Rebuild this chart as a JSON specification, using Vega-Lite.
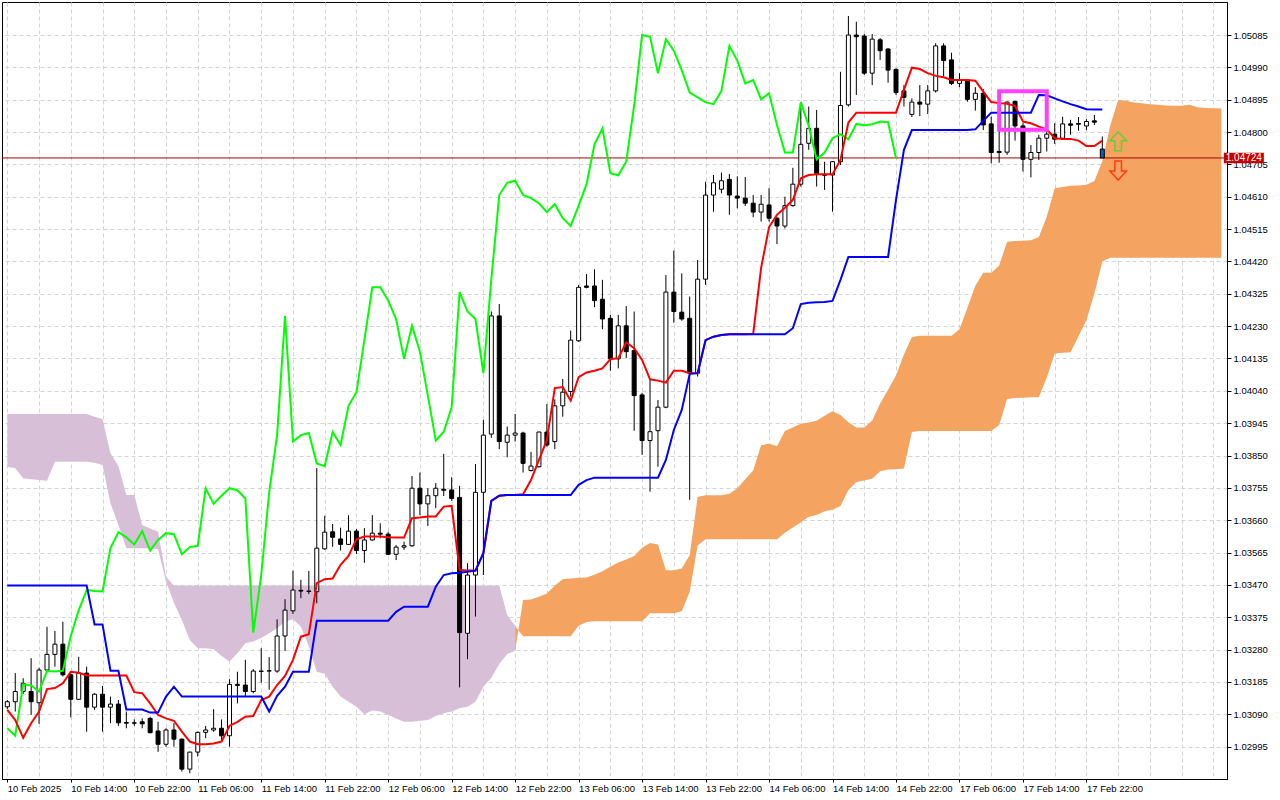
{
  "$schema": "https://vega.github.io/schema/vega-lite/v6.json",
  "width": 1225,
  "height": 777,
  "autosize": {"type": "none"},
  "padding": {"left": 2, "top": 2, "right": 53, "bottom": 21},
  "background": "white",
  "config": {
    "view": {"stroke": "black", "strokeWidth": 1},
    "axis": {"labelOverlap": false, "labelFlush": false, "labelBound": false}
  },
  "datasets": {
    "bars": [
      {"k":0,"o":1.03112,"h":1.03132,"l":1.03105,"c":1.03127,"t":1.03103,"kj":1.03468,"ch":1.03049,"sa":1.03817,"sb":1.03972},
      {"k":1,"o":1.03127,"h":1.03211,"l":1.03098,"c":1.03157,"t":1.03073,"kj":1.03468,"ch":1.03027,"sa":1.03813,"sb":1.03972},
      {"k":2,"o":1.03157,"h":1.03196,"l":1.0315,"c":1.03181,"t":1.03021,"kj":1.03468,"ch":1.03178,"sa":1.03783,"sb":1.03972},
      {"k":3,"o":1.03157,"h":1.03255,"l":1.03088,"c":1.03127,"t":1.03064,"kj":1.03468,"ch":1.03175,"sa":1.0378,"sb":1.03972},
      {"k":4,"o":1.03124,"h":1.03227,"l":1.03062,"c":1.0322,"t":1.03098,"kj":1.03468,"ch":1.03157,"sa":1.03778,"sb":1.03972},
      {"k":5,"o":1.0322,"h":1.03347,"l":1.03215,"c":1.03266,"t":1.03164,"kj":1.03468,"ch":1.03217,"sa":1.03776,"sb":1.03972},
      {"k":6,"o":1.03266,"h":1.03335,"l":1.0323,"c":1.03296,"t":1.03167,"kj":1.03468,"ch":1.03216,"sa":1.03832,"sb":1.03972},
      {"k":7,"o":1.03296,"h":1.03362,"l":1.03201,"c":1.03206,"t":1.03181,"kj":1.03468,"ch":1.03218,"sa":1.03832,"sb":1.03972},
      {"k":8,"o":1.03206,"h":1.03215,"l":1.03081,"c":1.03134,"t":1.03215,"kj":1.03468,"ch":1.0332,"sa":1.03832,"sb":1.03972},
      {"k":9,"o":1.03134,"h":1.03259,"l":1.03132,"c":1.03211,"t":1.03212,"kj":1.03468,"ch":1.03396,"sa":1.03832,"sb":1.03972},
      {"k":10,"o":1.03211,"h":1.0323,"l":1.03039,"c":1.03111,"t":1.03204,"kj":1.03468,"ch":1.03455,"sa":1.03832,"sb":1.03972},
      {"k":11,"o":1.03111,"h":1.03152,"l":1.03103,"c":1.03149,"t":1.03204,"kj":1.03354,"ch":1.03452,"sa":1.03829,"sb":1.03964},
      {"k":12,"o":1.03149,"h":1.03173,"l":1.03039,"c":1.03111,"t":1.03204,"kj":1.03354,"ch":1.03451,"sa":1.03822,"sb":1.03957},
      {"k":13,"o":1.03111,"h":1.03142,"l":1.03064,"c":1.0312,"t":1.03204,"kj":1.03218,"ch":1.03578,"sa":1.0371,"sb":1.03857},
      {"k":14,"o":1.0312,"h":1.03132,"l":1.03056,"c":1.03065,"t":1.03204,"kj":1.03218,"ch":1.03625,"sa":1.03646,"sb":1.03819},
      {"k":15,"o":1.03066,"h":1.03098,"l":1.03049,"c":1.03064,"t":1.03204,"kj":1.03104,"ch":1.0361,"sa":1.03578,"sb":1.03734},
      {"k":16,"o":1.03065,"h":1.03075,"l":1.03056,"c":1.03064,"t":1.03155,"kj":1.03104,"ch":1.03589,"sa":1.03578,"sb":1.03734},
      {"k":17,"o":1.03068,"h":1.03078,"l":1.03049,"c":1.03062,"t":1.03152,"kj":1.03104,"ch":1.03628,"sa":1.03578,"sb":1.03646},
      {"k":18,"o":1.03078,"h":1.03083,"l":1.03034,"c":1.03036,"t":1.03122,"kj":1.03095,"ch":1.03571,"sa":1.03578,"sb":1.03636},
      {"k":19,"o":1.03041,"h":1.03068,"l":1.0298,"c":1.03002,"t":1.03088,"kj":1.03095,"ch":1.03602,"sa":1.03575,"sb":1.03626},
      {"k":20,"o":1.03002,"h":1.03049,"l":1.02995,"c":1.03044,"t":1.03078,"kj":1.03142,"ch":1.03622,"sa":1.0348,"sb":1.03494},
      {"k":21,"o":1.03044,"h":1.03064,"l":1.02995,"c":1.03017,"t":1.03071,"kj":1.03171,"ch":1.03619,"sa":1.03418,"sb":1.03468},
      {"k":22,"o":1.03017,"h":1.03019,"l":1.02922,"c":1.02929,"t":1.03039,"kj":1.03142,"ch":1.0356,"sa":1.03367,"sb":1.03468},
      {"k":23,"o":1.02929,"h":1.0298,"l":1.02917,"c":1.02979,"t":1.0301,"kj":1.03142,"ch":1.03581,"sa":1.03308,"sb":1.03468},
      {"k":24,"o":1.02979,"h":1.03039,"l":1.02966,"c":1.03037,"t":1.03002,"kj":1.03142,"ch":1.03585,"sa":1.03284,"sb":1.03468},
      {"k":25,"o":1.03037,"h":1.03056,"l":1.0302,"c":1.03044,"t":1.03002,"kj":1.03142,"ch":1.03754,"sa":1.03284,"sb":1.03468},
      {"k":26,"o":1.03044,"h":1.03105,"l":1.03039,"c":1.03049,"t":1.03004,"kj":1.03142,"ch":1.03708,"sa":1.03281,"sb":1.03468},
      {"k":27,"o":1.03049,"h":1.03075,"l":1.0301,"c":1.03027,"t":1.0301,"kj":1.03142,"ch":1.03732,"sa":1.03261,"sb":1.03468},
      {"k":28,"o":1.03027,"h":1.03193,"l":1.02995,"c":1.03178,"t":1.03056,"kj":1.03142,"ch":1.03754,"sa":1.03245,"sb":1.03468},
      {"k":29,"o":1.03178,"h":1.03215,"l":1.03122,"c":1.03175,"t":1.03068,"kj":1.03142,"ch":1.03748,"sa":1.03269,"sb":1.03468},
      {"k":30,"o":1.03176,"h":1.0325,"l":1.03144,"c":1.03157,"t":1.03083,"kj":1.03142,"ch":1.03724,"sa":1.03299,"sb":1.03468},
      {"k":31,"o":1.03157,"h":1.03223,"l":1.03152,"c":1.03217,"t":1.03085,"kj":1.03142,"ch":1.0333,"sa":1.03304,"sb":1.03468},
      {"k":32,"o":1.03217,"h":1.03284,"l":1.03183,"c":1.03216,"t":1.03132,"kj":1.03142,"ch":1.03499,"sa":1.03314,"sb":1.03468},
      {"k":33,"o":1.03217,"h":1.03258,"l":1.03162,"c":1.03218,"t":1.03142,"kj":1.03098,"ch":1.03742,"sa":1.03328,"sb":1.03468},
      {"k":34,"o":1.03217,"h":1.03369,"l":1.03212,"c":1.0332,"t":1.03176,"kj":1.03144,"ch":1.0391,"sa":1.03343,"sb":1.03468},
      {"k":35,"o":1.0332,"h":1.03428,"l":1.03276,"c":1.03396,"t":1.03203,"kj":1.03171,"ch":1.0426,"sa":1.03362,"sb":1.03468},
      {"k":36,"o":1.03394,"h":1.03512,"l":1.03385,"c":1.03455,"t":1.0325,"kj":1.03215,"ch":1.03891,"sa":1.03369,"sb":1.03468},
      {"k":37,"o":1.03454,"h":1.03485,"l":1.03431,"c":1.03452,"t":1.03318,"kj":1.03215,"ch":1.0391,"sa":1.03347,"sb":1.03468},
      {"k":38,"o":1.03452,"h":1.03511,"l":1.03443,"c":1.03451,"t":1.03325,"kj":1.03215,"ch":1.03916,"sa":1.03289,"sb":1.03468},
      {"k":39,"o":1.0345,"h":1.03813,"l":1.03416,"c":1.03578,"t":1.03475,"kj":1.03365,"ch":1.03827,"sa":1.03215,"sb":1.03468},
      {"k":40,"o":1.03576,"h":1.03673,"l":1.03573,"c":1.03625,"t":1.03487,"kj":1.03365,"ch":1.03819,"sa":1.03209,"sb":1.03468},
      {"k":41,"o":1.03626,"h":1.03649,"l":1.03582,"c":1.0361,"t":1.03489,"kj":1.03365,"ch":1.03919,"sa":1.03171,"sb":1.03468},
      {"k":42,"o":1.03605,"h":1.03638,"l":1.03571,"c":1.03589,"t":1.03529,"kj":1.03365,"ch":1.03881,"sa":1.03142,"sb":1.03468},
      {"k":43,"o":1.03589,"h":1.03675,"l":1.03587,"c":1.03628,"t":1.03555,"kj":1.03365,"ch":1.03996,"sa":1.03127,"sb":1.03468},
      {"k":44,"o":1.03628,"h":1.03634,"l":1.03561,"c":1.03571,"t":1.03604,"kj":1.03365,"ch":1.04036,"sa":1.03112,"sb":1.03468},
      {"k":45,"o":1.03571,"h":1.03637,"l":1.03535,"c":1.03602,"t":1.03612,"kj":1.03365,"ch":1.04189,"sa":1.0309,"sb":1.03468},
      {"k":46,"o":1.03602,"h":1.03675,"l":1.036,"c":1.03622,"t":1.03612,"kj":1.03365,"ch":1.04344,"sa":1.03101,"sb":1.03468},
      {"k":47,"o":1.03622,"h":1.03651,"l":1.03607,"c":1.03619,"t":1.03612,"kj":1.03365,"ch":1.04344,"sa":1.03098,"sb":1.03468},
      {"k":48,"o":1.03619,"h":1.03626,"l":1.03558,"c":1.0356,"t":1.0361,"kj":1.03365,"ch":1.04305,"sa":1.03088,"sb":1.03468},
      {"k":49,"o":1.0356,"h":1.03587,"l":1.03543,"c":1.03581,"t":1.03609,"kj":1.03391,"ch":1.04251,"sa":1.03078,"sb":1.03468},
      {"k":50,"o":1.03581,"h":1.03597,"l":1.03573,"c":1.03585,"t":1.03609,"kj":1.03406,"ch":1.04134,"sa":1.03068,"sb":1.03468},
      {"k":51,"o":1.03585,"h":1.0379,"l":1.03582,"c":1.03754,"t":1.03666,"kj":1.03406,"ch":1.04231,"sa":1.03068,"sb":1.03468},
      {"k":52,"o":1.03754,"h":1.038,"l":1.03675,"c":1.03708,"t":1.03668,"kj":1.03406,"ch":1.04155,"sa":1.03071,"sb":1.03468},
      {"k":53,"o":1.03708,"h":1.03754,"l":1.03643,"c":1.03732,"t":1.03671,"kj":1.03406,"ch":1.04026,"sa":1.03073,"sb":1.03468},
      {"k":54,"o":1.03732,"h":1.03769,"l":1.03695,"c":1.03754,"t":1.03671,"kj":1.03465,"ch":1.03894,"sa":1.03085,"sb":1.03468},
      {"k":55,"o":1.03751,"h":1.03855,"l":1.03731,"c":1.03748,"t":1.037,"kj":1.03499,"ch":1.0392,"sa":1.03093,"sb":1.03468},
      {"k":56,"o":1.03749,"h":1.03786,"l":1.03717,"c":1.03724,"t":1.03702,"kj":1.03504,"ch":1.03992,"sa":1.03098,"sb":1.03468},
      {"k":57,"o":1.03727,"h":1.03761,"l":1.03169,"c":1.0333,"t":1.03514,"kj":1.03506,"ch":1.0433,"sa":1.03108,"sb":1.03468},
      {"k":58,"o":1.03328,"h":1.03534,"l":1.03252,"c":1.03499,"t":1.03512,"kj":1.03509,"ch":1.04273,"sa":1.03112,"sb":1.03468},
      {"k":59,"o":1.03499,"h":1.03825,"l":1.03377,"c":1.03742,"t":1.03512,"kj":1.03512,"ch":1.04251,"sa":1.03127,"sb":1.03468},
      {"k":60,"o":1.03742,"h":1.03955,"l":1.03499,"c":1.0391,"t":1.03563,"kj":1.03563,"ch":1.04092,"sa":1.03171,"sb":1.03468},
      {"k":61,"o":1.03913,"h":1.04273,"l":1.03902,"c":1.0426,"t":1.03717,"kj":1.03717,"ch":1.04368,"sa":1.03197,"sb":1.03468},
      {"k":62,"o":1.0426,"h":1.04295,"l":1.03869,"c":1.03891,"t":1.03732,"kj":1.03732,"ch":1.04615,"sa":1.03238,"sb":1.03468},
      {"k":63,"o":1.03889,"h":1.03935,"l":1.03845,"c":1.0391,"t":1.03734,"kj":1.03734,"ch":1.04651,"sa":1.03267,"sb":1.03382},
      {"k":64,"o":1.0391,"h":1.03972,"l":1.03891,"c":1.03916,"t":1.03734,"kj":1.03734,"ch":1.04657,"sa":1.03277,"sb":1.03349},
      {"k":65,"o":1.03916,"h":1.0392,"l":1.038,"c":1.03827,"t":1.03736,"kj":1.03734,"ch":1.04615,"sa":1.03426,"sb":1.03319},
      {"k":66,"o":1.03806,"h":1.03861,"l":1.03803,"c":1.03819,"t":1.03778,"kj":1.03734,"ch":1.04606,"sa":1.03427,"sb":1.03319},
      {"k":67,"o":1.03817,"h":1.0392,"l":1.03815,"c":1.03919,"t":1.03837,"kj":1.03734,"ch":1.04591,"sa":1.03435,"sb":1.03319},
      {"k":68,"o":1.03919,"h":1.04001,"l":1.03876,"c":1.03881,"t":1.03896,"kj":1.03734,"ch":1.04565,"sa":1.03445,"sb":1.03319},
      {"k":69,"o":1.03891,"h":1.04015,"l":1.03869,"c":1.03996,"t":1.04048,"kj":1.03734,"ch":1.04588,"sa":1.03468,"sb":1.03319},
      {"k":70,"o":1.03996,"h":1.04075,"l":1.03964,"c":1.04036,"t":1.04051,"kj":1.03734,"ch":1.04547,"sa":1.03487,"sb":1.03319},
      {"k":71,"o":1.04038,"h":1.04217,"l":1.04023,"c":1.04189,"t":1.04011,"kj":1.03734,"ch":1.04524,"sa":1.03489,"sb":1.03319},
      {"k":72,"o":1.04187,"h":1.04351,"l":1.04184,"c":1.04344,"t":1.0408,"kj":1.03764,"ch":1.04584,"sa":1.03491,"sb":1.0335},
      {"k":73,"o":1.04348,"h":1.04383,"l":1.04341,"c":1.04344,"t":1.04094,"kj":1.03778,"ch":1.04647,"sa":1.03492,"sb":1.03361},
      {"k":74,"o":1.04348,"h":1.04397,"l":1.04286,"c":1.04305,"t":1.04099,"kj":1.03785,"ch":1.04764,"sa":1.035,"sb":1.03363},
      {"k":75,"o":1.04309,"h":1.04366,"l":1.04221,"c":1.04251,"t":1.04106,"kj":1.03785,"ch":1.04811,"sa":1.0351,"sb":1.03363},
      {"k":76,"o":1.04253,"h":1.04263,"l":1.04099,"c":1.04134,"t":1.04133,"kj":1.03785,"ch":1.04679,"sa":1.03523,"sb":1.03363},
      {"k":77,"o":1.04134,"h":1.04263,"l":1.04106,"c":1.04231,"t":1.04136,"kj":1.03785,"ch":1.04673,"sa":1.03536,"sb":1.03363},
      {"k":78,"o":1.04231,"h":1.04289,"l":1.04136,"c":1.04155,"t":1.04182,"kj":1.03785,"ch":1.04713,"sa":1.03545,"sb":1.03363},
      {"k":79,"o":1.04158,"h":1.04273,"l":1.03923,"c":1.04026,"t":1.04165,"kj":1.03785,"ch":1.04878,"sa":1.03555,"sb":1.03363},
      {"k":80,"o":1.04028,"h":1.04034,"l":1.03852,"c":1.03894,"t":1.04131,"kj":1.03785,"ch":1.05085,"sa":1.03579,"sb":1.03363},
      {"k":81,"o":1.03894,"h":1.04072,"l":1.03744,"c":1.0392,"t":1.04074,"kj":1.03785,"ch":1.0508,"sa":1.03593,"sb":1.03387},
      {"k":82,"o":1.03923,"h":1.04013,"l":1.03817,"c":1.03992,"t":1.0407,"kj":1.03785,"ch":1.04973,"sa":1.03589,"sb":1.03387},
      {"k":83,"o":1.03992,"h":1.0438,"l":1.03989,"c":1.0433,"t":1.04064,"kj":1.03837,"ch":1.05073,"sa":1.03513,"sb":1.03387},
      {"k":84,"o":1.0433,"h":1.04452,"l":1.0424,"c":1.04273,"t":1.04099,"kj":1.03925,"ch":1.05039,"sa":1.03513,"sb":1.03387},
      {"k":85,"o":1.04271,"h":1.04385,"l":1.04246,"c":1.04251,"t":1.04099,"kj":1.03984,"ch":1.04982,"sa":1.03518,"sb":1.03393},
      {"k":86,"o":1.04253,"h":1.04317,"l":1.0372,"c":1.04092,"t":1.04092,"kj":1.0409,"ch":1.04916,"sa":1.03558,"sb":1.0345},
      {"k":87,"o":1.04092,"h":1.04424,"l":1.04082,"c":1.04368,"t":1.04092,"kj":1.04092,"ch":1.04902,"sa":1.03728,"sb":1.03586},
      {"k":88,"o":1.04368,"h":1.04654,"l":1.04351,"c":1.04615,"t":1.04189,"kj":1.04189,"ch":1.04888,"sa":1.03733,"sb":1.03604},
      {"k":89,"o":1.04615,"h":1.04674,"l":1.04566,"c":1.04651,"t":1.04199,"kj":1.04199,"ch":1.04882,"sa":1.03733,"sb":1.03604},
      {"k":90,"o":1.04632,"h":1.04681,"l":1.0462,"c":1.04657,"t":1.04204,"kj":1.04204,"ch":1.04921,"sa":1.03733,"sb":1.03604},
      {"k":91,"o":1.04661,"h":1.04677,"l":1.04557,"c":1.04615,"t":1.04206,"kj":1.04206,"ch":1.05053,"sa":1.03738,"sb":1.03604},
      {"k":92,"o":1.04612,"h":1.0467,"l":1.04576,"c":1.04606,"t":1.04206,"kj":1.04206,"ch":1.0501,"sa":1.03754,"sb":1.03604},
      {"k":93,"o":1.04606,"h":1.04668,"l":1.04583,"c":1.04591,"t":1.04206,"kj":1.04206,"ch":1.04943,"sa":1.0378,"sb":1.03604},
      {"k":94,"o":1.04591,"h":1.04615,"l":1.0455,"c":1.04565,"t":1.04207,"kj":1.04206,"ch":1.04953,"sa":1.03806,"sb":1.03604},
      {"k":95,"o":1.04565,"h":1.04615,"l":1.04537,"c":1.04588,"t":1.04401,"kj":1.04206,"ch":1.04896,"sa":1.0388,"sb":1.03604},
      {"k":96,"o":1.04586,"h":1.04635,"l":1.04537,"c":1.04547,"t":1.04521,"kj":1.04206,"ch":1.04914,"sa":1.03885,"sb":1.03604},
      {"k":97,"o":1.04547,"h":1.04551,"l":1.04471,"c":1.04524,"t":1.04557,"kj":1.04206,"ch":1.04821,"sa":1.03877,"sb":1.03604},
      {"k":98,"o":1.04524,"h":1.0461,"l":1.04517,"c":1.04584,"t":1.04578,"kj":1.04206,"ch":1.0474,"sa":1.03922,"sb":1.03623},
      {"k":99,"o":1.04584,"h":1.04695,"l":1.04581,"c":1.04647,"t":1.04601,"kj":1.04224,"ch":1.0474,"sa":1.03932,"sb":1.03639},
      {"k":100,"o":1.04647,"h":1.04871,"l":1.0464,"c":1.04764,"t":1.04664,"kj":1.04295,"ch":1.04888,"sa":1.03943,"sb":1.03654},
      {"k":101,"o":1.04767,"h":1.04875,"l":1.04748,"c":1.04811,"t":1.04674,"kj":1.04299,"ch":1.04818,"sa":1.03947,"sb":1.0367},
      {"k":102,"o":1.04811,"h":1.04865,"l":1.0464,"c":1.04679,"t":1.04676,"kj":1.043,"ch":1.0472,"sa":1.03952,"sb":1.03675},
      {"k":103,"o":1.04676,"h":1.04713,"l":1.0463,"c":1.04673,"t":1.04676,"kj":1.04301,"ch":1.0474,"sa":1.03967,"sb":1.03686},
      {"k":104,"o":1.04674,"h":1.04715,"l":1.04566,"c":1.04713,"t":1.04676,"kj":1.04304,"ch":1.04782,"sa":1.0398,"sb":1.03691},
      {"k":105,"o":1.04713,"h":1.04977,"l":1.04703,"c":1.04878,"t":1.04718,"kj":1.04366,"ch":1.04794,"sa":1.03969,"sb":1.03702},
      {"k":106,"o":1.0488,"h":1.05141,"l":1.04875,"c":1.05085,"t":1.04828,"kj":1.04433,"ch":1.04779,"sa":1.03948,"sb":1.03749},
      {"k":107,"o":1.05085,"h":1.05124,"l":1.04909,"c":1.0508,"t":1.04857,"kj":1.04433,"ch":1.04824,"sa":1.03932,"sb":1.03772},
      {"k":108,"o":1.05082,"h":1.05088,"l":1.04968,"c":1.04973,"t":1.04857,"kj":1.04433,"ch":1.0482,"sa":1.03932,"sb":1.03777},
      {"k":109,"o":1.04973,"h":1.05088,"l":1.04938,"c":1.05073,"t":1.04857,"kj":1.04433,"ch":1.04823,"sa":1.03953,"sb":1.03782},
      {"k":110,"o":1.05071,"h":1.05076,"l":1.05012,"c":1.05039,"t":1.04857,"kj":1.04433,"ch":1.04831,"sa":1.04003,"sb":1.03804},
      {"k":111,"o":1.05044,"h":1.05046,"l":1.04945,"c":1.04982,"t":1.04857,"kj":1.04433,"ch":1.04829,"sa":1.04043,"sb":1.03809},
      {"k":112,"o":1.04984,"h":1.04987,"l":1.04909,"c":1.04916,"t":1.04857,"kj":1.04601,"ch":1.04724,"sa":1.04085,"sb":1.0381},
      {"k":113,"o":1.04921,"h":1.04938,"l":1.04875,"c":1.04902,"t":1.04924,"kj":1.04748,"sa":1.04147,"sb":1.03812},
      {"k":114,"o":1.04852,"h":1.04899,"l":1.04844,"c":1.04888,"t":1.04989,"kj":1.04806,"sa":1.04198,"sb":1.03919},
      {"k":115,"o":1.04888,"h":1.04938,"l":1.04847,"c":1.04882,"t":1.04985,"kj":1.04806,"sa":1.04202,"sb":1.03922},
      {"k":116,"o":1.04882,"h":1.04938,"l":1.04853,"c":1.04921,"t":1.04973,"kj":1.04806,"sa":1.04202,"sb":1.03922},
      {"k":117,"o":1.04921,"h":1.05061,"l":1.04916,"c":1.05053,"t":1.04965,"kj":1.04806,"sa":1.04202,"sb":1.03922},
      {"k":118,"o":1.05053,"h":1.05061,"l":1.04963,"c":1.0501,"t":1.04961,"kj":1.04806,"sa":1.04202,"sb":1.03922},
      {"k":119,"o":1.05012,"h":1.05033,"l":1.04938,"c":1.04943,"t":1.04953,"kj":1.04806,"sa":1.04202,"sb":1.03922},
      {"k":120,"o":1.04943,"h":1.04973,"l":1.04932,"c":1.04953,"t":1.04953,"kj":1.04806,"sa":1.04221,"sb":1.03922},
      {"k":121,"o":1.04953,"h":1.04953,"l":1.04889,"c":1.04896,"t":1.04953,"kj":1.04806,"sa":1.04284,"sb":1.03922},
      {"k":122,"o":1.04896,"h":1.04932,"l":1.04863,"c":1.04914,"t":1.04951,"kj":1.04808,"sa":1.04349,"sb":1.03922},
      {"k":123,"o":1.04914,"h":1.04926,"l":1.04806,"c":1.04821,"t":1.04919,"kj":1.04833,"sa":1.04387,"sb":1.03922},
      {"k":124,"o":1.04824,"h":1.04845,"l":1.04708,"c":1.0474,"t":1.04888,"kj":1.04857,"sa":1.04387,"sb":1.03922},
      {"k":125,"o":1.04743,"h":1.04885,"l":1.0471,"c":1.0474,"t":1.04885,"kj":1.04857,"sa":1.04408,"sb":1.0394},
      {"k":126,"o":1.04741,"h":1.0489,"l":1.04733,"c":1.04888,"t":1.04883,"kj":1.04857,"sa":1.04478,"sb":1.04016},
      {"k":127,"o":1.0489,"h":1.04892,"l":1.04775,"c":1.04818,"t":1.04877,"kj":1.04857,"sa":1.0448,"sb":1.04019},
      {"k":128,"o":1.04818,"h":1.04826,"l":1.04684,"c":1.0472,"t":1.04831,"kj":1.04857,"sa":1.04481,"sb":1.0402},
      {"k":129,"o":1.0472,"h":1.04762,"l":1.04667,"c":1.0474,"t":1.04826,"kj":1.04857,"sa":1.04482,"sb":1.04021},
      {"k":130,"o":1.0474,"h":1.04792,"l":1.04718,"c":1.04782,"t":1.04816,"kj":1.04909,"sa":1.04492,"sb":1.04021},
      {"k":131,"o":1.04782,"h":1.04821,"l":1.04743,"c":1.04794,"t":1.04808,"kj":1.04908,"sa":1.04551,"sb":1.04079},
      {"k":132,"o":1.04794,"h":1.04826,"l":1.04765,"c":1.04779,"t":1.04782,"kj":1.04899,"sa":1.04635,"sb":1.0415},
      {"k":133,"o":1.04782,"h":1.04845,"l":1.04779,"c":1.04824,"t":1.0478,"kj":1.0489,"sa":1.04639,"sb":1.04152},
      {"k":134,"o":1.04824,"h":1.04836,"l":1.04792,"c":1.0482,"t":1.0478,"kj":1.04882,"sa":1.04642,"sb":1.04153},
      {"k":135,"o":1.04825,"h":1.04844,"l":1.04804,"c":1.04823,"t":1.04775,"kj":1.04875,"sa":1.04643,"sb":1.042},
      {"k":136,"o":1.04818,"h":1.04838,"l":1.04806,"c":1.04831,"t":1.04759,"kj":1.04867,"sa":1.04645,"sb":1.04247},
      {"k":137,"o":1.04833,"h":1.0485,"l":1.04821,"c":1.04829,"t":1.04759,"kj":1.04866,"sa":1.04656,"sb":1.04326},
      {"k":138,"o":1.0475,"h":1.04787,"l":1.04724,"c":1.04724,"t":1.04775,"kj":1.04866,"sa":1.04714,"sb":1.0442},
      {"k":139,"sa":1.04819,"sb":1.04431},
      {"k":140,"sa":1.04894,"sb":1.04431},
      {"k":141,"sa":1.04892,"sb":1.04431},
      {"k":142,"sa":1.04887,"sb":1.04431},
      {"k":143,"sa":1.04885,"sb":1.04431},
      {"k":144,"sa":1.04882,"sb":1.04431},
      {"k":145,"sa":1.0488,"sb":1.04431},
      {"k":146,"sa":1.04878,"sb":1.04431},
      {"k":147,"sa":1.04877,"sb":1.04431},
      {"k":148,"sa":1.04877,"sb":1.04431},
      {"k":149,"sa":1.0488,"sb":1.04431},
      {"k":150,"sa":1.04873,"sb":1.04431},
      {"k":151,"sa":1.04871,"sb":1.04431},
      {"k":152,"sa":1.0487,"sb":1.04431},
      {"k":153,"sa":1.04869,"sb":1.04431}
    ],
    "last": [{"k": 155.835, "p": 1.04724, "label": "1.04724"}],
    "box": [{"k1": 125, "k2": 131, "p1": 1.04807, "p2": 1.0492}],
    "arrows": [
      {"k": 140, "p": 1.04773, "dir": "up"},
      {"k": 140, "p": 1.04687, "dir": "down"}
    ]
  },
  "layer": [
    {
      "data": {"name": "bars"},
      "transform": [{"filter": "datum.k <= 64"}],
      "mark": {"type": "area", "color": "#d8bfd8"},
      "encoding": {
        "x": {
          "field": "k",
          "type": "quantitative",
          "title": null,
          "scale": {"domain": [-0.04, 153.085], "nice": false, "zero": false},
          "axis": {
            "orient": "bottom",
            "title": null,
            "values": [0,4,8,12,16,20,24,28,32,36,40,44,48,52,56,60,64,68,72,76,80,84,88,92,96,100,104,108,112,116,120,124,128,132,136,140,144,148,152],
            "tickCount": 100,
            "grid": true,
            "gridColor": "#d4d4d4",
            "gridDash": [4, 3],
            "domainColor": "black",
            "tickColor": "black",
            "tickSize": 3,
            "tickOpacity": {"condition": {"test": "datum.value % 8 == 0 && datum.value <= 136", "value": 1}, "value": 0},
            "labelExpr": "datum.value % 8 == 0 && datum.value <= 136 ? ['10 Feb 2025','10 Feb 14:00','10 Feb 22:00','11 Feb 06:00','11 Feb 14:00','11 Feb 22:00','12 Feb 06:00','12 Feb 14:00','12 Feb 22:00','13 Feb 06:00','13 Feb 14:00','13 Feb 22:00','14 Feb 06:00','14 Feb 14:00','14 Feb 22:00','17 Feb 06:00','17 Feb 14:00','17 Feb 22:00'][datum.value / 8] : ''",
            "labelAlign": "left",
            "labelBaseline": "top",
            "labelPadding": 1,
            "labelOverlap": false,
            "labelFont": "Liberation Sans",
            "labelFontSize": 9.5,
            "labelColor": "black"
          }
        },
        "y": {
          "field": "sb",
          "type": "quantitative",
          "title": null,
          "scale": {"domain": [1.029, 1.05182], "nice": false, "zero": false},
          "axis": {
            "orient": "right",
            "title": null,
            "values": [1.02995,1.0309,1.03185,1.0328,1.03375,1.0347,1.03565,1.0366,1.03755,1.0385,1.03945,1.0404,1.04135,1.0423,1.04325,1.0442,1.04515,1.0461,1.04705,1.048,1.04895,1.0499,1.05085],
            "tickCount": 100,
            "format": ".5f",
            "grid": true,
            "gridColor": "#d4d4d4",
            "gridDash": [4, 3],
            "domainColor": "black",
            "tickColor": "black",
            "tickSize": 4,
            "labelPadding": 2,
            "labelOverlap": false,
            "labelFont": "Liberation Sans",
            "labelFontSize": 9.5,
            "labelColor": "black"
          }
        },
        "y2": {"field": "sa"}
      }
    },
    {
      "data": {"name": "bars"},
      "transform": [{"filter": "datum.k >= 64"}],
      "mark": {"type": "area", "color": "#f4a460"},
      "encoding": {
        "x": {"field": "k", "type": "quantitative", "title": null},
        "y": {"field": "sa", "type": "quantitative", "title": null},
        "y2": {"field": "sb"}
      }
    },
    {
      "data": {"name": "last"},
      "mark": {"type": "rule", "color": "#a80000", "strokeWidth": 1},
      "encoding": {
        "y": {"field": "p", "type": "quantitative", "title": null}
      }
    },
    {
      "data": {"name": "bars"},
      "transform": [{"filter": "isValid(datum.o)"}],
      "mark": {"type": "rule", "color": "black", "strokeWidth": 1},
      "encoding": {
        "x": {"field": "k", "type": "quantitative", "title": null},
        "y": {"field": "l", "type": "quantitative", "title": null},
        "y2": {"field": "h"}
      }
    },
    {
      "data": {"name": "bars"},
      "transform": [{"filter": "isValid(datum.o)"}],
      "mark": {"type": "bar", "size": 4, "stroke": "black", "strokeWidth": 1},
      "encoding": {
        "x": {"field": "k", "type": "quantitative", "title": null},
        "y": {"field": "o", "type": "quantitative", "title": null},
        "y2": {"field": "c"},
        "fill": {
          "condition": [
            {"test": "datum.k == 138", "value": "#0b5ea0"},
            {"test": "datum.c > datum.o", "value": "white"}
          ],
          "value": "black"
        }
      }
    },
    {
      "data": {"name": "bars"},
      "transform": [{"filter": "isValid(datum.ch)"}],
      "mark": {"type": "line", "color": "#00ff00", "strokeWidth": 2},
      "encoding": {
        "x": {"field": "k", "type": "quantitative", "title": null},
        "y": {"field": "ch", "type": "quantitative", "title": null}
      }
    },
    {
      "data": {"name": "bars"},
      "transform": [{"filter": "isValid(datum.t)"}],
      "mark": {"type": "line", "color": "#ff0000", "strokeWidth": 2},
      "encoding": {
        "x": {"field": "k", "type": "quantitative", "title": null},
        "y": {"field": "t", "type": "quantitative", "title": null}
      }
    },
    {
      "data": {"name": "bars"},
      "transform": [{"filter": "isValid(datum.kj)"}],
      "mark": {"type": "line", "color": "#0000ff", "strokeWidth": 2},
      "encoding": {
        "x": {"field": "k", "type": "quantitative", "title": null},
        "y": {"field": "kj", "type": "quantitative", "title": null}
      }
    },
    {
      "data": {"name": "box"},
      "mark": {"type": "rect", "filled": false, "color": "#ff40ff", "strokeWidth": 4},
      "encoding": {
        "x": {"field": "k1", "type": "quantitative", "title": null},
        "x2": {"field": "k2"},
        "y": {"field": "p2", "type": "quantitative", "title": null},
        "y2": {"field": "p1"}
      }
    },
    {
      "data": {"name": "arrows"},
      "transform": [{"filter": "datum.dir == 'up'"}],
      "mark": {"type": "point", "shape": "M0,-1L0.88,-0.05L0.35,-0.05L0.35,1L-0.35,1L-0.35,-0.05L-0.88,-0.05Z", "size": 361, "filled": false, "color": "#62cf38", "strokeWidth": 1.5, "opacity": 1},
      "encoding": {
        "x": {"field": "k", "type": "quantitative", "title": null},
        "y": {"field": "p", "type": "quantitative", "title": null}
      }
    },
    {
      "data": {"name": "arrows"},
      "transform": [{"filter": "datum.dir == 'down'"}],
      "mark": {"type": "point", "shape": "M0,1L0.88,0.05L0.35,0.05L0.35,-1L-0.35,-1L-0.35,0.05L-0.88,0.05Z", "size": 361, "filled": false, "color": "#ff3a14", "strokeWidth": 1.5, "opacity": 1},
      "encoding": {
        "x": {"field": "k", "type": "quantitative", "title": null},
        "y": {"field": "p", "type": "quantitative", "title": null}
      }
    },
    {
      "data": {"name": "last"},
      "mark": {"type": "point", "shape": "M-1,-0.26L1,-0.26L1,0.26L-1,0.26Z", "size": 1600, "filled": true, "color": "#c80000", "opacity": 1, "strokeWidth": 0},
      "encoding": {
        "x": {"field": "k", "type": "quantitative", "title": null},
        "y": {"field": "p", "type": "quantitative", "title": null}
      }
    },
    {
      "data": {"name": "last"},
      "mark": {"type": "text", "color": "white", "font": "Liberation Sans", "fontSize": 10, "align": "center", "baseline": "middle", "dy": 0.5},
      "encoding": {
        "x": {"field": "k", "type": "quantitative", "title": null},
        "y": {"field": "p", "type": "quantitative", "title": null},
        "text": {"field": "label"}
      }
    }
  ]
}
